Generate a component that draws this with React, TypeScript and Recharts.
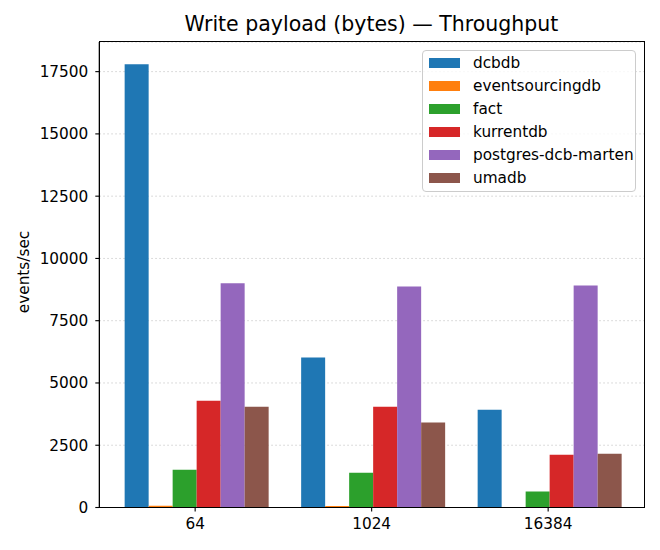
import React from 'react';
import { BarChart, Bar, XAxis, YAxis, CartesianGrid, Legend } from 'recharts';

const categories = ['64', '1024', '16384'];
const dcbdb = [17800, 6020, 3920];
const eventsourcingdb = [70, 65, 0];
const fact = [1520, 1400, 640];
const kurrentdb = [4290, 4050, 2120];
const postgresDcbMarten = [9000, 8875, 8915];
const umadb = [4050, 3410, 2160];
const yTicks = [0, 2500, 5000, 7500, 10000, 12500, 15000, 17500];

const seriesNames = ['dcbdb', 'eventsourcingdb', 'fact', 'kurrentdb', 'postgres-dcb-marten', 'umadb'];
const seriesValues = [dcbdb, eventsourcingdb, fact, kurrentdb, postgresDcbMarten, umadb];
const colors = ['#1f77b4', '#ff7f0e', '#2ca02c', '#d62728', '#9467bd', '#8c564b'];

const data = categories.map((c, i) => {
  const row: Record<string, any> = { category: c };
  seriesNames.forEach((n, k) => {
    row[n] = seriesValues[k][i];
  });
  return row;
});

const FONT = '"DejaVu Sans", sans-serif';

const LegendBox = () => (
  <div
    style={{
      position: 'absolute',
      left: 422,
      top: 50,
      width: 214,
      height: 142,
      boxSizing: 'border-box',
      border: '1px solid #cccccc',
      borderRadius: 4,
      background: 'rgba(255,255,255,0.8)',
      fontFamily: FONT,
      fontSize: 15.3,
      color: '#000',
    }}
  >
    {seriesNames.map((n, k) => (
      <div
        key={n}
        style={{ position: 'absolute', left: 6, top: 0.5 + k * 23, height: 23, display: 'flex', alignItems: 'center', whiteSpace: 'nowrap' }}
      >
        <div style={{ width: 31, height: 10, background: colors[k] }} />
        <span style={{ marginLeft: 13, lineHeight: '23px' }}>{n}</span>
      </div>
    ))}
  </div>
);

export default function App() {
  return (
    <div style={{ position: 'absolute', left: 0, top: 0, width: 660, height: 550, background: '#fff', fontFamily: FONT }}>
      <BarChart
        width={660}
        height={550}
        data={data}
        margin={{ top: 42, right: 16, bottom: 12.5, left: 0 }}
        barCategoryGap={17.75}
        barGap={0}
      >
        <CartesianGrid vertical={false} stroke="#d0d0d0" strokeDasharray="1.5 2.5" strokeWidth={1} />
        <XAxis
          dataKey="category"
          height={30}
          padding={{ left: 7.6, right: 7.6 }}
          tickSize={4}
          tickMargin={7}
          stroke="#000"
          tick={{ fill: '#000', fontSize: 15.3, fontFamily: FONT }}
          axisLine={{ stroke: '#000', strokeWidth: 1.2 }}
          tickLine={{ stroke: '#000', strokeWidth: 1.1 }}
        />
        <YAxis
          width={99.3}
          domain={[0, 18690]}
          ticks={yTicks}
          interval={0}
          allowDataOverflow
          tickSize={4}
          tickMargin={7}
          tick={{ fill: '#000', fontSize: 15.3, fontFamily: FONT }}
          axisLine={{ stroke: '#000', strokeWidth: 1.2 }}
          tickLine={{ stroke: '#000', strokeWidth: 1.1 }}
        />
        <Legend content={() => <LegendBox />} wrapperStyle={{ position: 'absolute', left: 0, top: 0, width: 0, height: 0 }} />
        {seriesNames.map((n, k) => (
          <Bar key={n} dataKey={n} fill={colors[k]} isAnimationActive={false} />
        ))}
      </BarChart>
      <div
        style={{
          position: 'absolute',
          left: 98.7,
          top: 41.4,
          width: 545.9,
          height: 466.7,
          boxSizing: 'border-box',
          border: '1.2px solid #000',
          pointerEvents: 'none',
        }}
      />
      <div
        style={{
          position: 'absolute',
          left: 99,
          width: 545,
          top: 11,
          textAlign: 'center',
          fontSize: 20.5,
          lineHeight: '26px',
          fontFamily: FONT,
          color: '#000',
          whiteSpace: 'nowrap',
        }}
      >
        Write payload (bytes) — Throughput
      </div>
      <div
        style={{
          position: 'absolute',
          left: 24,
          top: 272,
          transform: 'translate(-50%, -50%) rotate(-90deg)',
          fontSize: 15.3,
          lineHeight: '18px',
          fontFamily: FONT,
          color: '#000',
          whiteSpace: 'nowrap',
        }}
      >
        events/sec
      </div>
    </div>
  );
}
